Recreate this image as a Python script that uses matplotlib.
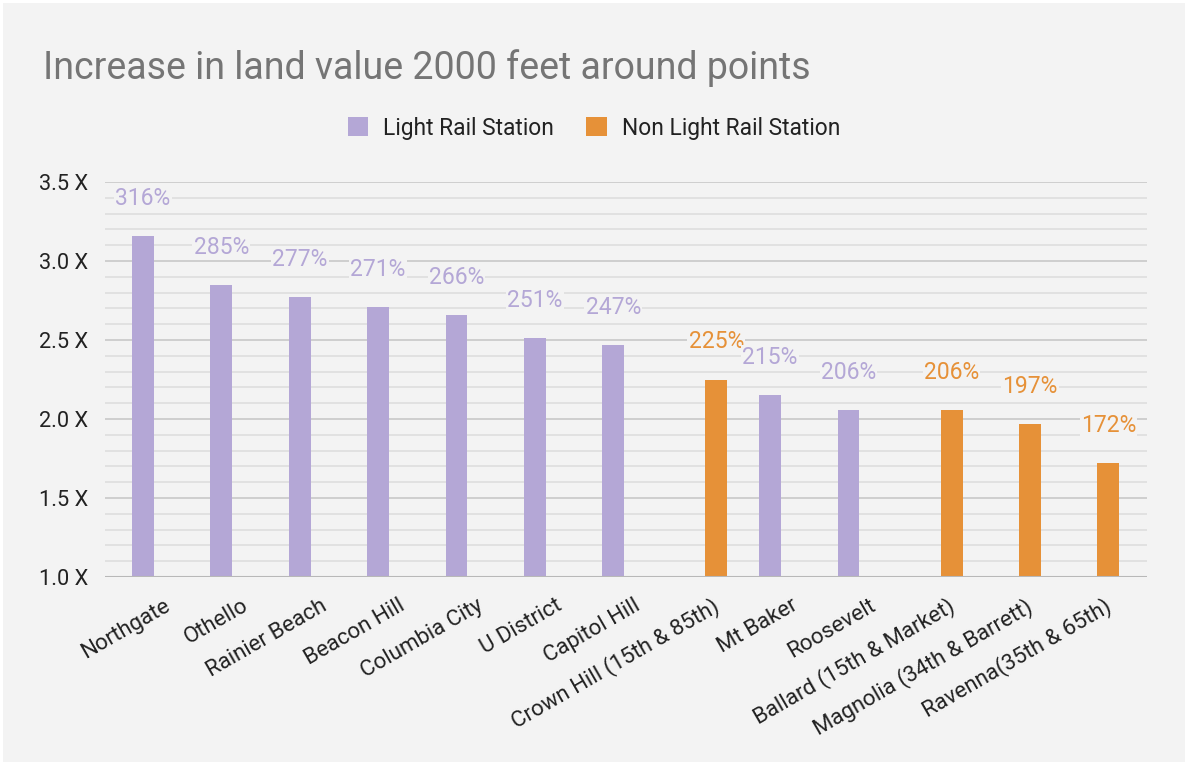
import numpy as np
import matplotlib
matplotlib.use("Agg")
import matplotlib.pyplot as plt
from matplotlib.patches import Patch, Rectangle
from matplotlib.ticker import MultipleLocator, FuncFormatter
from matplotlib.transforms import ScaledTranslation

plt.rcParams['font.family'] = ['Roboto', 'DejaVu Sans']

stations = ["Northgate", "Othello", "Rainier Beach", "Beacon Hill", "Columbia City",
            "U District", "Capitol Hill", "Crown Hill (15th & 85th)", "Mt Baker",
            "Roosevelt", "Ballard (15th & Market)", "Magnolia (34th & Barrett)",
            "Ravenna(35th & 65th)"]
increase = [3.16, 2.85, 2.77, 2.71, 2.66, 2.51, 2.47, 2.25, 2.15, 2.06, 2.055, 1.97, 1.72]
value_labels = ["316%", "285%", "277%", "271%", "266%", "251%", "247%",
                "225%", "215%", "206%", "206%", "197%", "172%"]
is_light_rail = [True, True, True, True, True, True, True, False, True, True, False, False, False]
series_names = ["Light Rail Station", "Non Light Rail Station"]

bg = "#f3f3f3"
purple = "#b4a7d6"
orange = "#e69138"
W, H = 1188, 765

fig = plt.figure(figsize=(W/100, H/100), dpi=100, facecolor="white")
# light grey card with a thin white edge
fig.patches.append(Rectangle((3/W, 3/H), 1 - 6/W, 1 - 6/H, transform=fig.transFigure,
                             facecolor=bg, edgecolor="none", zorder=-10))

ax = fig.add_axes([105/W, 1 - 577/H, (1147-105)/W, (577-182)/H])
ax.set_facecolor(bg)

x = np.arange(len(stations))
width = 0.28
offset = 0.157

for i, (v, lab, lr) in enumerate(zip(increase, value_labels, is_light_rail)):
    xpos = x[i] - offset if lr else x[i] + offset
    col = purple if lr else orange
    ax.bar(xpos, v - 1.0, bottom=1.0, width=width, color=col, zorder=3)
    ax.annotate(lab, (xpos, v), xytext=(0, 27), textcoords="offset points",
                ha="center", va="center", fontsize=16.5, color=col, zorder=4,
                bbox=dict(boxstyle="square,pad=0.05", fc=bg, ec="none"))

ax.set_xlim(-0.64, 12.65)
ax.set_ylim(1.0, 3.5)
ax.yaxis.set_major_locator(MultipleLocator(0.5))
ax.yaxis.set_minor_locator(MultipleLocator(0.1))
ax.yaxis.set_major_formatter(FuncFormatter(lambda v, p: f"{v:.1f} X"))
ax.grid(which="major", axis="y", color="#c8c8c8", lw=1.2, zorder=0)
ax.grid(which="minor", axis="y", color="#dedede", lw=1.2, zorder=0)
ax.axhline(1.0, color="#b8b8b8", lw=1.5, zorder=5)

for s in ax.spines.values():
    s.set_visible(False)
ax.tick_params(axis="both", which="both", length=0)
ax.tick_params(axis="y", labelsize=15.7, labelcolor="#222222", pad=12)
ax.set_xticks(x)
ax.set_xticklabels(stations, rotation=30, ha="right", va="top", rotation_mode="anchor",
                   fontsize=16, color="#222222")
ax.tick_params(axis="x", pad=13)
shift = ScaledTranslation(8/100, 0, fig.dpi_scale_trans)
for lbl in ax.get_xticklabels():
    lbl.set_transform(lbl.get_transform() + shift)

fig.text(43/W, 1 - 79/H, "Increase in land value 2000 feet around points",
         fontsize=27, color="#757575", va="baseline", ha="left")

handles = [Patch(facecolor=purple, edgecolor="none"), Patch(facecolor=orange, edgecolor="none")]
fig.legend(handles, series_names, loc="center", bbox_to_anchor=(594/W, 1 - 128/H),
           ncol=2, frameon=False, fontsize=16.4, handlelength=0.9, handleheight=0.9,
           columnspacing=1.4, handletextpad=0.66, labelcolor="#222222")

fig.savefig("out.png", dpi=100, facecolor="white")
